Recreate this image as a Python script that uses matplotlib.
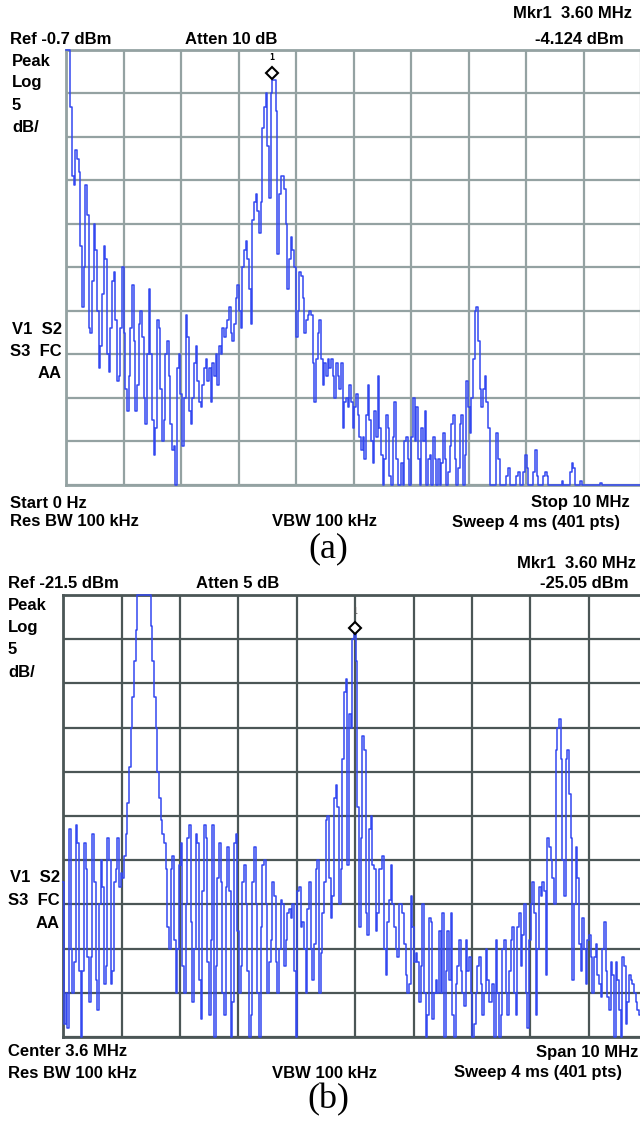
import numpy as np
import matplotlib
matplotlib.use("Agg")
import matplotlib.pyplot as plt
from matplotlib.transforms import offset_copy

# ---------------- data (trace level in graticule divisions above the bottom line) ----------------
# Panel (a): Start 0 Hz, Stop 10 MHz, Ref -0.7 dBm, 5 dB/div
start_a, stop_a = 0.0, 10.0
ref_a = -0.7
atten_a = 10
mkr_freq_a = 3.60
mkr_level_a = -4.124

trace_a_div = [
    10, 10, 10, 8.7, 7.1, 6.9, 7.7, 7.5, 7.2, 5.5,
    4.1, 5.0, 6.9, 6.2, 3.6, 3.5, 4.7, 6.0, 5.4, 4.0,
    2.7, 3.2, 4.4, 5.5, 5.2, 3.0, 2.6, 3.6, 4.7, 4.9,
    3.8, 2.4, 2.5, 3.6, 5.0, 3.5, 2.2, 1.7, 2.5, 3.6,
    4.6, 3.3, 1.7, 2.3, 3.7, 4.0, 3.4, 2.0, 1.4, 3.0,
    4.5, 3.0, 1.5, 0.7, 1.3, 3.8, 3.6, 2.2, 1.0, 1.5,
    3.0, 3.3, 2.5, 1.4, 0.8, 0.9, 0.0, 2.7, 3.0, 2.1,
    0.9, 2.0, 3.9, 3.4, 1.7, 1.4, 2.0, 2.8, 3.2, 2.4,
    1.9, 1.8, 2.3, 2.7, 2.9, 2.4, 2.7, 1.9, 2.8, 2.5,
    3.0, 2.3, 3.2, 3.0, 3.6, 3.4, 3.6, 3.8, 4.1, 3.5,
    3.3, 3.7, 4.3, 4.6, 4.0, 3.6, 5.0, 5.4, 5.6, 5.2,
    4.5,
    3.7, 6.1, 6.5, 6.7, 6.3, 5.8, 6.5, 8.2, 8.7, 9.0,
    7.8, 6.6, 9.0, 9.3, 9.3, 8.6, 5.3, 6.7, 7.1, 7.1,
    6.8, 6.0, 4.5, 5.2, 5.7, 5.4, 5.0, 3.4, 4.0, 4.9,
    4.8, 4.3, 3.5, 3.8, 3.9, 4.0, 3.9, 2.8, 1.9, 2.9,
    3.5, 3.8, 2.9, 2.3, 2.8, 2.5, 2.9, 2.7, 2.9, 2.5,
    2.0, 2.8, 2.5, 2.2, 2.8, 1.3, 1.9, 2.0, 1.8, 2.3,
    1.9, 1.3, 1.8, 2.1, 1.6, 1.1, 0.8, 1.1, 0.6, 1.6,
    2.3, 1.5, 1.0, 0.5, 1.7, 1.1, 2.5, 1.3, 0.7, 0.0,
    0.6, 1.6, 1.3, 0.2, 0.0, 1.1, 1.9, 0.6, 0.0, 0.0,
    0.5, 0.0, 1.0, 1.1, 0.6, 0.0, 1.1, 2.0, 1.0, 1.8,
    0.6, 0.0, 1.3, 1.0, 1.7, 0.0, 0.6, 0.7, 0.0, 1.1,
    0.6, 0.0, 0.6,
    0.0, 0.5, 1.2, 0.6, 0.0, 0.3, 0.9, 1.4, 1.6, 0.6,
    0.0, 0.4, 1.4, 1.6, 0.0, 0.7, 2.4, 1.8, 1.2, 2.0,
    2.9, 4.0, 4.1, 3.3, 2.2, 1.8, 2.2, 2.5, 1.9, 1.3,
    0.0, 0.0, 0.0, 0.0, 1.2, 0.6, 0.0, 0.0, 0.0, 0.0,
    0.2, 0.4, 0.0, 0.0, 0.0, 0.0, 0.2, 0.3, 0.0, 0.0,
    0.3, 0.7, 0.4, 0.0, 0.0, 0.0, 0.3, 0.8, 0.2, 0.0,
    0.0, 0.0, 0.2, 0.3, 0.2, 0.0, 0.0, 0.0, 0.0, 0.0,
    0.0, 0.0, 0.0, 0.1, 0.0, 0.0, 0.0, 0.0, 0.3, 0.5,
    0.4, 0.0, 0.0, 0.0, 0.1, 0.0, 0.0, 0.0, 0.0, 0.0,
    0.0, 0.0, 0.0, 0.0, 0.0, 0.0, 0.05, 0.0, 0.0, 0.0,
    0.0, 0.0, 0.0, 0.0, 0.0, 0.0, 0.0, 0.0, 0.0, 0.0,
    0.0, 0.0, 0.0, 0.0, 0.0, 0.0, 0.0, 0.0, 0.0, 0.0,
    0.0,
]

# Panel (b): Center 3.6 MHz, Span 10 MHz, Ref -21.5 dBm, 5 dB/div
center_b, span_b = 3.6, 10.0
ref_b = -21.5
atten_b = 5
mkr_freq_b = 3.60
mkr_level_b = -25.05
sample_step_b = 0.02855   # MHz between read-off samples

trace_b_div = [
    3.5, 0.3, 1.0, 0.2, 4.7, 2.0, 1.0, 1.7, 4.8, 4.4,
    1.5, 0.0, 1.5, 4.4, 3.8, 1.8, 0.8, 1.8, 4.6, 3.5,
    1.3, 0.6, 3.0, 4.0, 3.4, 1.2, 1.6, 4.5, 4.0, 1.2,
    1.5, 3.5, 3.8, 4.5, 3.4, 3.7, 3.6, 4.1, 4.6, 5.3,
    6.1, 7.0, 7.7, 8.5, 9.2, 10, 10, 10, 10, 10,
    10, 10, 10, 9.3, 8.5, 7.7, 7.0, 6.0, 5.4, 4.9,
    4.6, 4.4, 3.8, 2.5, 2.0, 3.8, 4.1, 2.2, 1.0, 2.0,
    3.9, 4.4, 1.6, 1.0, 3.0, 4.5, 4.8, 2.6, 0.8, 2.0,
    4.6, 4.4, 1.3, 0.4, 3.3, 4.8, 4.5, 1.7, 0.5, 2.2,
    4.8, 0.0, 1.6, 3.6, 4.4, 3.5, 1.0, 0.5, 3.4, 4.3,
    3.3, 0.0, 0.8, 4.4, 4.6, 2.4, 1.0, 1.6, 3.5, 3.9,
    3.0, 1.5, 0.0, 0.5, 3.5, 4.3, 3.0, 1.0, 0.0, 2.5,
    3.9, 4.0, 3.0, 1.0, 1.7, 2.2, 3.5, 3.2, 1.7, 1.0,
    2.0, 3.1, 3.0, 1.6, 2.2, 2.8, 2.9, 2.7, 3.0, 1.5,
    0.0, 3.3, 3.4, 2.5, 2.6, 2.0, 1.0, 2.9, 3.5, 2.0,
    1.3, 2.1, 3.8, 4.0, 1.0, 1.9, 2.8, 3.5, 4.9, 5.0,
    3.6, 2.7, 3.2, 5.4, 5.7, 5.2, 3.0, 3.8, 6.3, 7.8,
    8.1, 3.9, 7.3, 7.0, 9.0, 9.2, 8.5, 5.2, 2.5, 4.5,
    6.8, 6.5, 2.8, 2.3, 4.7, 5.0, 3.9, 3.8, 2.4, 2.8,
    3.8, 3.8, 4.1, 2.0, 1.4, 2.6, 3.1, 3.9, 3.0, 2.5,
    2.0, 1.8, 3.0, 3.0, 2.8, 2.1, 1.4, 1.0, 1.2, 3.2,
    2.5, 1.7, 1.9, 1.7, 0.8, 1.6, 3.0, 1.0, 0.0, 0.5,
    2.7, 2.6, 0.4, 1.0, 1.3, 1.0,
    2.4, 1.0, 2.8, 0.0, 1.5, 2.4, 1.3, 2.8, 0.5, 0.0,
    1.2, 1.6, 2.2, 1.5, 1.0, 0.7, 2.2, 1.5, 1.8, 1.0,
    0.0, 0.3, 1.0, 1.6, 1.8, 1.2, 0.5, 1.0, 2.0, 1.3,
    0.8, 0.8, 1.2, 0.0, 2.2, 1.0, 0.0, 0.5, 2.0, 2.2,
    1.0, 0.5, 1.5, 2.2, 2.5, 1.0, 0.5, 2.5, 2.8, 1.6,
    2.3, 3.0, 1.0, 0.2, 2.2, 3.0, 3.5, 2.8, 0.5, 2.0,
    3.4, 3.2, 3.5, 3.3, 1.4, 4.5, 4.3, 4.0, 3.6, 3.0,
    6.5, 7.0, 7.2, 6.3, 4.0, 3.2, 6.3, 6.5, 5.5, 4.5,
    1.3, 3.0, 4.3, 3.6, 2.1, 1.5, 2.7, 2.0, 1.2, 2.2,
    2.3, 1.8, 1.0, 1.8, 2.1, 1.4, 1.2, 0.9, 2.0, 2.6,
    1.5, 0.9, 0.6, 1.7, 1.4, 0.0, 1.7, 1.3, 0.6, 0.0,
    1.8, 1.6, 0.3, 0.8, 1.4, 1.3, 1.2, 1.0, 0.8, 0.6,
    0.5,
]

common_rbw = "Res BW 100 kHz"
common_vbw = "VBW 100 kHz"
common_sweep = "Sweep 4 ms (401 pts)"
db_per_div = 5
n_div = 10

# ---------------- styling ----------------
W, H = 640, 1125
fig = plt.figure(figsize=(W / 100, H / 100), dpi=100)
fig.patch.set_facecolor("white")
trace_color = "#3348f0"
lab_font = ["Liberation Sans", "DejaVu Sans"]
lab_kw = dict(family=lab_font, fontweight="bold", fontsize=12, color="black")


def ftext(x, y, s, ha="left", **kw):
    opts = dict(lab_kw)
    opts.update(kw)
    fig.text(x / W, 1 - y / H, s, ha=ha, va="center", **opts)


def px_axes(left, top, right, bottom):
    return fig.add_axes([left / W, 1 - bottom / H, (right - left) / W, (bottom - top) / H])


def setup_screen(ax, f0, f1, ref, gcolor, lw):
    ax.set_xlim(f0, f1)
    ax.set_ylim(ref - db_per_div * n_div, ref)
    ax.set_xticks(np.linspace(f0, f1, n_div + 1))
    ax.set_yticks(np.linspace(ref - db_per_div * n_div, ref, n_div + 1))
    ax.tick_params(length=0, labelbottom=False, labelleft=False)
    ax.grid(True, color=gcolor, linewidth=lw)
    ax.set_axisbelow(True)
    for sp in ax.spines.values():
        sp.set_color(gcolor)
        sp.set_linewidth(lw + 0.4)


def to_dbm(ref, divs):
    return ref + db_per_div * (np.asarray(divs, dtype=float) - n_div)


# ---------------- panel (a) ----------------
ax_a = px_axes(66, 50, 641, 485)
setup_screen(ax_a, start_a, stop_a, ref_a, "#94a2a2", 1.6)
freq_a = np.linspace(start_a, stop_a, len(trace_a_div))
ax_a.plot(freq_a, to_dbm(ref_a, trace_a_div), color=trace_color, lw=1.1,
          drawstyle="steps-mid", clip_on=False, zorder=3)
tr = offset_copy(ax_a.transData, fig=fig, x=-1, y=5, units="points")
ax_a.plot([mkr_freq_a], [mkr_level_a], marker="D", ms=6, mfc="white", mec="black",
          mew=1.5, transform=tr, zorder=5, clip_on=False)
tr1 = offset_copy(ax_a.transData, fig=fig, x=-1, y=16, units="points")
ax_a.text(mkr_freq_a, mkr_level_a, "1", transform=tr1, ha="center", va="center",
          fontsize=6, fontweight="bold", family=["DejaVu Sans Mono"], zorder=5)

ftext(632, 14, f"Mkr1  {mkr_freq_a:.2f} MHz", ha="right")
ftext(10, 39, f"Ref {ref_a} dBm")
ftext(185, 39, f"Atten {atten_a} dB")
ftext(624, 39, f"{mkr_level_a} dBm", ha="right")
for i, s in enumerate(["Peak", "Log", f"{db_per_div}", "dB/"]):
    ftext(12, 61 + 22 * i, s)
for i, s in enumerate(["V1  S2", "S3  FC", "AA"]):
    ftext(62, 330 + 21.5 * i, s, ha="right")
ftext(10, 503, f"Start {start_a:.0f} Hz")
ftext(630, 503, f"Stop {stop_a:.0f} MHz", ha="right")
ftext(10, 522, common_rbw)
ftext(272, 522, common_vbw)
ftext(620, 522, common_sweep, ha="right")
fig.text(328 / W, 1 - 549 / H, "(a)", ha="center", va="center",
         family=["Liberation Serif", "DejaVu Serif"], fontsize=26)

# ---------------- panel (b) ----------------
ax_b = px_axes(63.3, 595, 647, 1037)
f0_b, f1_b = center_b - span_b / 2, center_b + span_b / 2
setup_screen(ax_b, f0_b, f1_b, ref_b, "#4b5656", 1.6)
freq_b = f0_b + sample_step_b * np.arange(len(trace_b_div))
ax_b.plot(freq_b, to_dbm(ref_b, trace_b_div), color=trace_color, lw=1.1,
          drawstyle="steps-mid", clip_on=False, zorder=3)
trb = offset_copy(ax_b.transData, fig=fig, x=0, y=-1, units="points")
ax_b.plot([mkr_freq_b], [mkr_level_b], marker="D", ms=6, mfc="white", mec="black",
          mew=1.5, transform=trb, zorder=5, clip_on=False)
trb1 = offset_copy(ax_b.transData, fig=fig, x=0, y=11, units="points")
ax_b.text(mkr_freq_b, mkr_level_b, "1", transform=trb1, ha="center", va="center",
          fontsize=6, color="#555555", family=["DejaVu Sans Mono"], zorder=5)

ftext(636, 563, f"Mkr1  {mkr_freq_b:.2f} MHz", ha="right")
ftext(8, 583, f"Ref {ref_b} dBm")
ftext(196, 583, f"Atten {atten_b} dB")
ftext(628, 583, f"{mkr_level_b} dBm", ha="right")
for i, s in enumerate(["Peak", "Log", f"{db_per_div}", "dB/"]):
    ftext(8, 605 + 22.5 * i, s)
for i, s in enumerate(["V1  S2", "S3  FC", "AA"]):
    ftext(60, 878 + 22.5 * i, s, ha="right")
ftext(8, 1052, f"Center {center_b} MHz")
ftext(638, 1052, f"Span {span_b:.0f} MHz", ha="right")
ftext(8, 1073, common_rbw)
ftext(272, 1073, common_vbw)
ftext(622, 1073, common_sweep, ha="right")
fig.text(328 / W, 1 - 1100 / H, "(b)", ha="center", va="center",
         family=["Liberation Serif", "DejaVu Serif"], fontsize=26)

fig.savefig("out.png", dpi=100, facecolor="white")
